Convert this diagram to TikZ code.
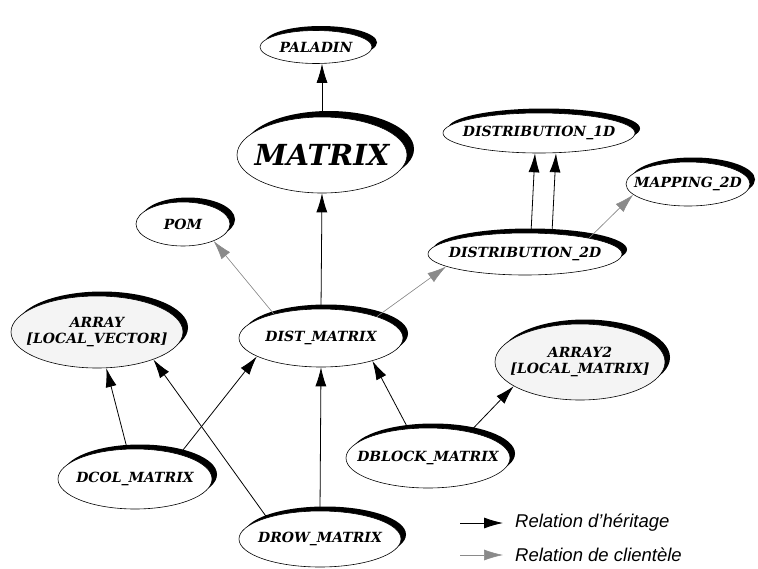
\documentclass[tikz,border=0pt]{standalone}
\usepackage{fontspec}
\newfontfamily\legendfont{Liberation Sans}
\newfontfamily\clsfont{DejaVu Serif}
\usetikzlibrary{shapes.geometric,shadows,arrows.meta}
\definecolor{arrowgray}{HTML}{8A8A8A}
\definecolor{boxfill}{HTML}{F4F4F4}
\begin{document}
\begin{tikzpicture}[x=1pt,y=-1pt,
  cls/.style={ellipse, draw=black, line width=0.6pt, fill=white, inner sep=0pt,
    drop shadow={shadow xshift=5pt, shadow yshift=4.5pt, fill=black, opacity=1}},
  bigcls/.style={ellipse, draw=black, line width=0.6pt, fill=white, inner sep=0pt,
    drop shadow={shadow xshift=7pt, shadow yshift=6pt, fill=black, opacity=1}},
  lbl/.style={font=\clsfont\bfseries\itshape\fontsize{14}{16}\selectfont, align=center, inner sep=0pt},
  inh/.style={-{Latex[length=19pt,width=11pt]}, line width=0.8pt},
  cli/.style={-{Latex[length=19pt,width=11pt]}, draw=arrowgray, fill=arrowgray, line width=0.6pt},
  legtxt/.style={font=\legendfont\itshape\fontsize{18.5}{20}\selectfont, anchor=west, inner sep=0pt},
]
\useasboundingbox (0,0) rectangle (758,568);

% class ellipses
\node[cls, minimum width=112pt, minimum height=33pt] (pal) at (316,47) {};
\node[bigcls, minimum width=170pt, minimum height=76pt] (mat) at (322,155) {};
\node[cls, minimum width=192pt, minimum height=40pt] (d1) at (539,133) {};
\node[cls, minimum width=124pt, minimum height=44pt] (map) at (688,184) {};
\node[cls, minimum width=194pt, minimum height=42pt] (d2) at (525,254) {};
\node[cls, minimum width=94pt, minimum height=44pt] (pom) at (183,224) {};
\node[cls, minimum width=164pt, minimum height=58pt] (dist) at (321,338) {};
\node[cls, fill=boxfill, minimum width=172pt, minimum height=72pt] (arr) at (97,332) {};
\node[cls, minimum width=154pt, minimum height=60pt] (dcol) at (135,479) {};
\node[cls, minimum width=162pt, minimum height=56pt] (drow) at (320,539) {};
\node[cls, minimum width=164pt, minimum height=60pt] (dblock) at (428,458) {};
\node[cls, fill=boxfill, minimum width=170pt, minimum height=76pt] (arr2) at (580,362) {};

% class names
\node[lbl] (palt) at (pal) {PALADIN};
\node[lbl, font=\clsfont\bfseries\itshape\fontsize{29}{32}\selectfont] (matt) at (mat) {MATRIX};
\node[lbl] (d1t) at (d1) {DISTRIBUTION\_1D};
\node[lbl] (mapt) at (map) {MAPPING\_2D};
\node[lbl] (d2t) at (d2) {DISTRIBUTION\_2D};
\node[lbl] (pomt) at (pom) {POM};
\node[lbl] (distt) at (dist) {DIST\_MATRIX};
\node[lbl] (arrt) at (arr) {ARRAY\\{[LOCAL\_VECTOR]}};
\node[lbl] (dcolt) at (dcol) {DCOL\_MATRIX};
\node[lbl] (drowt) at (drow) {DROW\_MATRIX};
\node[lbl] (dblockt) at (dblock) {DBLOCK\_MATRIX};
\node[lbl] (arr2t) at (arr2) {ARRAY2\\{[LOCAL\_MATRIX]}};

% inheritance
\draw[inh] (mat.north) -- (mat.north |- pal.south);
\draw[inh] (dist.north) -- (mat.south);
\draw[inh] ([xshift=6pt]d2.north) -- ([xshift=-4pt]d1.south);
\draw[inh] ([xshift=27pt]d2.north) -- ([xshift=17pt]d1.south);
\draw[inh] (dcol) -- (arr);
\draw[inh] (dcol.29) -- (dist.196);
\draw[inh] (drow.158) -- (arr.334);
\draw[inh] (drow.north) -- (dist.south);
\draw[inh] (dblock.124) -- (dist.336);
\draw[inh] (dblock.32) -- (arr2.200);

% client
\draw[cli] (dist.153) -- (pom.331);
\draw[cli] (dist.21) -- (d2.189);
\draw[cli] (d2.14) -- (map.191);

% legend
\coordinate (l1a) at (460,523);
\coordinate (l1b) at (503,523);
\coordinate (l2a) at (460,555);
\coordinate (l2b) at (503,555);
\draw[inh] (l1a) -- (l1b);
\draw[cli] (l2a) -- (l2b);
\node[legtxt] (leg1) at (515,523) {Relation d’héritage};
\node[legtxt] (leg2) at (515,555) {Relation de clientèle};
\end{tikzpicture}
\end{document}
